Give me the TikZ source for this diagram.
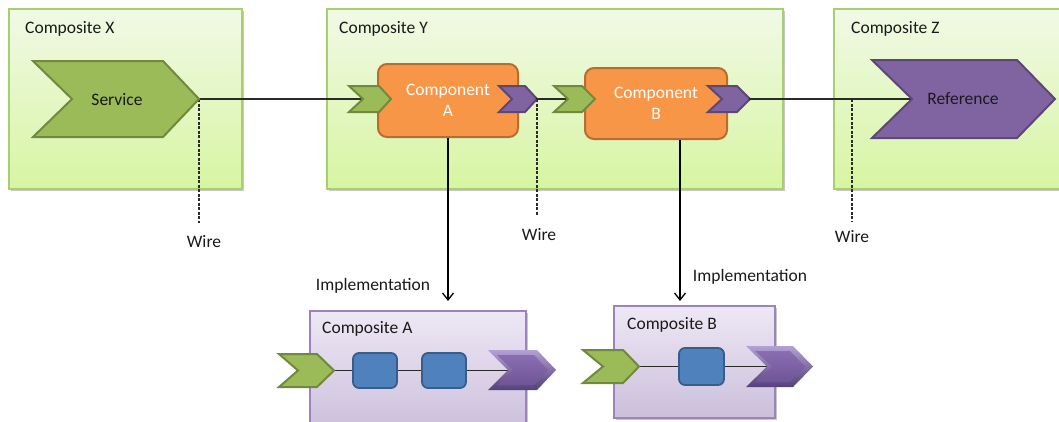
\documentclass[tikz,border=0pt]{standalone}
\usepackage{fontspec}
\setmainfont{Carlito}
\usetikzlibrary{arrows.meta,shadows,calc}
\definecolor{grnfill}{HTML}{9BBB59}
\definecolor{grnline}{HTML}{71893F}
\definecolor{orfill}{HTML}{F79646}
\definecolor{orline}{HTML}{B66D31}
\definecolor{pufill}{HTML}{8064A2}
\definecolor{puline}{HTML}{5C4776}
\definecolor{pulight}{HTML}{B3A0D4}
\definecolor{pudark}{HTML}{54407A}
\definecolor{pumidt}{HTML}{8A6EB2}
\definecolor{pumidb}{HTML}{6F5497}
\definecolor{blfill}{HTML}{4F81BD}
\definecolor{blline}{HTML}{385D8A}
\definecolor{cgtop}{HTML}{F1F9E6}
\definecolor{cgbot}{HTML}{D7F5A2}
\definecolor{cgline}{HTML}{A8CF6F}
\definecolor{cptop}{HTML}{EEE8F5}
\definecolor{cpbot}{HTML}{CBBFDB}
\definecolor{cpline}{HTML}{9B84BE}
\definecolor{txt}{HTML}{1A1A1A}
\definecolor{wirec}{HTML}{2A2A2A}
% name, style, x left, x notch, x shoulder, x tip, y top, y bottom
\newcommand\mychev[8]{%
  \path[#2] (#3,#7) -- (#5,#7) -- (#6,{(#7+#8)/2}) -- (#5,#8) -- (#3,#8) -- (#4,{(#7+#8)/2}) -- cycle;
  \coordinate (#1-n) at (#4,{(#7+#8)/2});
  \coordinate (#1-t) at (#6,{(#7+#8)/2});
}
% bevelled purple chevron: name, x left, x notch, x shoulder, x tip, y top, y bottom
\newcommand\mybevel[7]{%
  \mychev{#1}{top color=pulight,bottom color=pudark}{#2}{#3}{#4}{#5}{#6}{#7}
  \path[top color=pumidt,bottom color=pumidb] ({#2+9},{#6+5}) -- ({#4-3},{#6+5}) -- ({#5-8},{(#6+#7)/2}) -- ({#4-3},{#7-5}) -- ({#2+9},{#7-5}) -- ({#3+5},{(#6+#7)/2}) -- cycle;
}
\begin{document}
\begin{tikzpicture}[x=1pt,y=-1pt,
  font=\fontsize{17.5}{21}\selectfont,
  shadowed/.style={drop shadow={shadow xshift=1.5pt,shadow yshift=-1.5pt,opacity=0.3,fill=black!70}},
  compgreen/.style={rectangle,inner sep=0pt,draw=cgline,line width=1.2pt,top color=cgtop,bottom color=cgbot,shadowed},
  comppurple/.style={rectangle,inner sep=0pt,draw=cpline,line width=1.2pt,top color=cptop,bottom color=cpbot,shadowed},
  lbl/.style={inner sep=0pt,text=txt},
  gchev/.style={fill=grnfill,draw=grnline,line width=2pt,line join=miter},
  pchev/.style={fill=pufill,draw=puline,line width=2pt,line join=miter},
  compo/.style={rectangle,rounded corners=9pt,fill=orfill,draw=orline,line width=2pt,text=white,align=center,inner sep=0pt},
  blbox/.style={rectangle,rounded corners=6pt,fill=blfill,draw=blline,line width=1.8pt,inner sep=0pt},
  wire/.style={draw=wirec,line width=1.3pt},
  dwire/.style={draw=wirec,line width=1.2pt,dash pattern=on 3pt off 1.5pt},
  impl/.style={draw=black,line width=1.3pt,-{Straight Barb[length=7pt,width=11pt,line width=1.3pt]}}
]
\useasboundingbox (0,0) rectangle (1059,421);
\clip (0,0) rectangle (1059,421);
\fill[white] (0,0) rectangle (1059,421);

% composites
\node[compgreen,minimum width=233pt,minimum height=180pt] (cx) at (125.5,99) {};
\node[compgreen,minimum width=456pt,minimum height=180pt] (cy) at (555,99) {};
\node[compgreen,minimum width=240pt,minimum height=180pt] (cz) at (954,99) {};
\node[comppurple,minimum width=216pt,minimum height=120pt] (ca) at (418,371) {};
\node[comppurple,minimum width=161pt,minimum height=112pt] (cb) at (694.5,362) {};

\node[lbl,anchor=base west] (lx) at (25,33) {Composite X};
\node[lbl,anchor=base west] (ly) at (339,33) {Composite Y};
\node[lbl,anchor=base west] (lz) at (851,33) {Composite Z};
\node[lbl,anchor=base west] (la) at (322,333) {Composite A};
\node[lbl,anchor=base west] (lb) at (627,329) {Composite B};

% components
\node[compo,minimum width=140pt,minimum height=73pt] (compA) at (448,100.5) {Component\\A};
\node[compo,minimum width=142pt,minimum height=71pt] (compB) at (656,103.5) {Component\\B};

% blue boxes
\node[blbox,minimum width=44pt,minimum height=35pt] (ba1) at (375,370.5) {};
\node[blbox,minimum width=44pt,minimum height=35pt] (ba2) at (444,370.5) {};
\node[blbox,minimum width=45pt,minimum height=37pt] (bb1) at (701.5,366.5) {};

% wires (drawn under chevrons)
\coordinate (svc-t0) at (199,99);
\coordinate (gA-n0) at (363,99);
\coordinate (pA-t0) at (537,99);
\coordinate (gB-n0) at (568,99);
\coordinate (pB-t0) at (750,99);
\coordinate (ref-n0) at (912,99);
\draw[wire] (svc-t0) -- (gA-n0);
\draw[wire] (pA-t0) -- (gB-n0);
\draw[wire] (pB-t0) -- (ref-n0);

% dashed wire markers
\node[lbl,anchor=base] (w1) at (204,247) {Wire};
\node[lbl,anchor=base] (w2) at (539,240) {Wire};
\node[lbl,anchor=base] (w3) at (852,242) {Wire};
\coordinate (w1e) at (199,223);
\coordinate (w2e) at (537,215);
\coordinate (w3s) at (852,99);
\coordinate (w3e) at (852,222);
\draw[dwire] (svc-t0) -- (w1e);
\draw[dwire] (pA-t0) -- (w2e);
\draw[dwire] (w3s) -- (w3e);

% inner wires of composites A and B
\coordinate (gIA-t0) at (334,370.5);
\coordinate (pIA-n0) at (508,370.5);
\coordinate (gIB-t0) at (639,366.5);
\coordinate (pIB-n0) at (767,366.5);
\draw[wire,line width=1.1pt] (gIA-t0) -- (ba1.west);
\draw[wire,line width=1.1pt] (ba1.east) -- (ba2.west);
\draw[wire,line width=1.1pt] (ba2.east) -- (pIA-n0);
\draw[wire,line width=1.1pt] (gIB-t0) -- (bb1.west);
\draw[wire,line width=1.1pt] (bb1.east) -- (pIB-n0);

% chevrons
\mychev{svc}{gchev}{33}{72}{163}{199}{61}{137}
\mychev{ref}{pchev}{872}{912}{1017}{1055}{60}{138}
\mychev{gA}{gchev}{349}{363}{379}{391}{86}{112}
\mychev{pA}{pchev}{499}{512}{525}{537}{86}{112}
\mychev{gB}{gchev}{554}{568}{582}{595}{86}{112}
\mychev{pB}{pchev}{708}{722}{737}{750}{86}{112}
\mychev{gIA}{gchev}{279}{298}{317}{334}{354}{387}
\mybevel{pIA}{488}{508}{537}{556}{350}{390}
\mychev{gIB}{gchev}{583}{603}{623}{639}{350}{383}
\mybevel{pIB}{746}{767}{793}{813}{346}{387}

\fill[wirec] (pA-t0) circle (1.4pt);
\fill[wirec] (pB-t0) circle (1.4pt);

\node[lbl] (svctext) at (117,100) {Service};
\node[lbl] (reftext) at (963,99) {Reference};

% implementation arrows
\coordinate (iAe) at (448,301);
\coordinate (iBs) at ($(compB.south)+(24,0)$);
\coordinate (iBe) at (680,301);
\draw[impl] (compA.south) -- (iAe);
\draw[impl] (iBs) -- (iBe);
\node[lbl,anchor=base] (implA) at (373,290) {Implementation};
\node[lbl,anchor=base] (implB) at (750,281) {Implementation};
\end{tikzpicture}
\end{document}
